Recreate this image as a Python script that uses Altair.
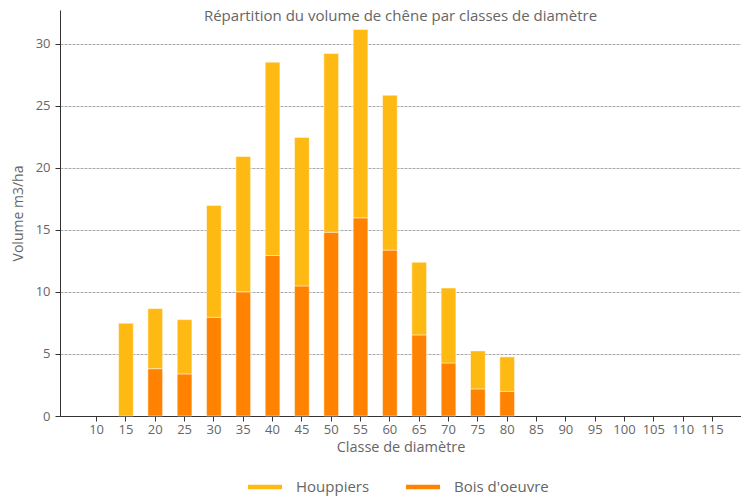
import altair as alt
import pandas as pd

classes = [10, 15, 20, 25, 30, 35, 40, 45, 50, 55, 60, 65, 70, 75, 80, 85, 90, 95, 100, 105, 110, 115]
bois_oeuvre = [0, 0, 3.81, 3.39, 7.95, 10.0, 12.93, 10.48, 14.8, 15.96, 13.36, 6.53, 4.27, 2.18, 1.99, 0, 0, 0, 0, 0, 0, 0]
houppiers = [0, 7.47, 4.84, 4.37, 9.01, 10.9, 15.57, 11.96, 14.4, 15.17, 12.47, 5.85, 6.03, 3.06, 2.77, 0, 0, 0, 0, 0, 0, 0]
series = ["Houppiers", "Bois d'oeuvre"]
colors = ["#FFB913", "#FF8300"]
y_ticks = [0, 5, 10, 15, 20, 25, 30]

rows = []
for c, b, h in zip(classes, bois_oeuvre, houppiers):
    rows.append({"classe": str(c), "serie": "Bois d'oeuvre", "ord": 0, "v": b})
    rows.append({"classe": str(c), "serie": "Houppiers", "ord": 1, "v": h})
df = pd.DataFrame(rows)

FONT = "Open Sans"
GRAY = "#666666"

chart = alt.Chart(df).transform_filter(alt.datum.v > 0).mark_bar(
    stroke="#ffffff", strokeWidth=1, strokeOpacity=0.45
).encode(
    x=alt.X("classe:N", sort=[str(c) for c in classes],
            scale=alt.Scale(domain=[str(c) for c in classes], paddingInner=0.5, paddingOuter=0.86, align=0.58),
            axis=alt.Axis(title="Classe de diamètre", labelAngle=0, labelFontSize=13, titleFontSize=14.5,
                          labelColor=GRAY, titleColor=GRAY, labelFont=FONT, titleFont=FONT,
                          domainColor="#333333", tickColor="#333333", tickSize=5, labelPadding=2,
                          titlePadding=4, titleFontWeight="normal")),
    y=alt.Y("v:Q", stack="zero",
            scale=alt.Scale(domain=[0, 32.7], nice=False, zero=True),
            axis=alt.Axis(title="Volume m3/ha", values=y_ticks, labelFontSize=13, titleFontSize=14,
                          labelColor=GRAY, titleColor=GRAY, labelFont=FONT, titleFont=FONT,
                          domainColor="#333333", tickColor="#333333", tickSize=5, labelPadding=5,
                          titlePadding=10, titleFontWeight="normal",
                          grid=True, gridColor="#aaaaaa", gridDash=[3, 1], gridWidth=1)),
    color=alt.Color("serie:N", scale=alt.Scale(domain=series, range=colors),
                    legend=alt.Legend(title=None, orient="none", direction="horizontal",
                                      legendX=188, legendY=460,
                                      symbolType="M-1,-0.137H1V0.137H-1Z", symbolSize=1156,
                                      symbolStrokeWidth=0, symbolOpacity=1,
                                      labelFontSize=15, labelFont=FONT, labelColor=GRAY,
                                      labelOffset=14, columnPadding=36)),
    order=alt.Order("ord:Q", sort="ascending"),
).properties(
    width=681, height=406,
    title=alt.TitleParams("Répartition du volume de chêne par classes de diamètre",
                          fontSize=15, font=FONT, color=GRAY, fontWeight="normal",
                          anchor="middle", offset=0, baseline="alphabetic", dy=26),
    autosize=alt.AutoSizeParams(type="none"),
    padding={"left": 52, "top": 2, "right": 0, "bottom": 80},
).configure_view(stroke=None)

chart.save("out.html", embed_options={"renderer": "svg", "actions": False})
